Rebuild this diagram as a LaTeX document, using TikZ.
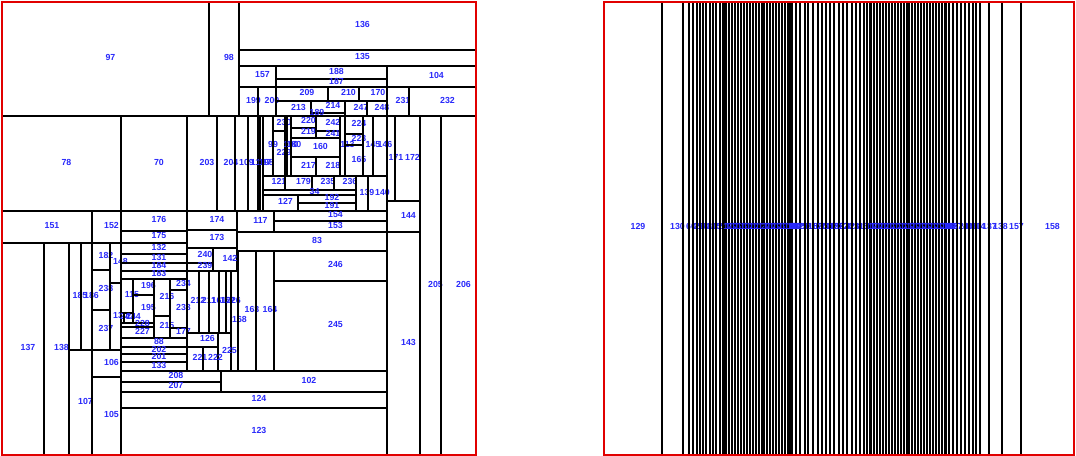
\documentclass[tikz,border=0pt]{standalone}
\usepackage{fontspec}
\setsansfont{Liberation Sans}
\usetikzlibrary{calc}
\definecolor{labelblue}{RGB}{40,40,250}
\definecolor{framered}{RGB}{225,0,0}
\tikzset{
	cellbox/.style={draw=black, line width=0.75pt},
	celllabel/.style={text=labelblue, font=\sffamily\bfseries\fontsize{5}{6}\selectfont, inner sep=0pt, xshift=0.1cm, yshift=0.03cm},
	slice/.style={draw=black, line width=0.6pt},
	frame/.style={draw=framered, line width=1.3pt}
}
\def\boxcell(#1,#2)(#3,#4)#5{\draw[cellbox] (#1,#2) rectangle (#3,#4); \node[celllabel] (n#5) at ($(#1,#2)!0.5!(#3,#4)$) {#5};}

\begin{document}
\begin{tikzpicture}[x=0.02cm, y=-0.02cm]
			\useasboundingbox (0,0) rectangle (1076,456);
			%%%%% LEFT %%%%%
			
			\boxcell(2,2)(209,116){97}
			\boxcell(209,2)(239,116){98}
			\boxcell(239,2)(476,50){136}
			\boxcell(239,50)(476,66){135}
			\boxcell(239,66)(276,87){157}
			\boxcell(276,66)(387,79){188}
			\boxcell(276,79)(387,87){187}
			\boxcell(387,66)(476,87){104}
			\boxcell(239,87)(258,116){199}
			\boxcell(258,87)(276,116){200}
			\boxcell(276,87)(328,101){209}
			\boxcell(328,87)(359,101){210}
			\boxcell(359,87)(387,101){170}
			\boxcell(276,101)(311,116){213}
			\boxcell(311,101)(345,113){214}
			\draw[cellbox] (311,113) rectangle (345,116);
			\node[celllabel] (n189) at (312,114) {189};
			\boxcell(345,101)(367,116){247}
			\boxcell(367,101)(387,116){248}
			\boxcell(387,87)(409,116){231}
			\boxcell(409,87)(476,116){232}
			
			\boxcell(2,116)(121,211){78}
			\boxcell(121,116)(187,211){70}
			\boxcell(187,116)(217,211){203}
			\boxcell(217,116)(235,211){204}
			\boxcell(235,116)(248,211){109}
			\boxcell(248,116)(258,211){119}
			\boxcell(258,116)(260,211){197}
			\boxcell(260,116)(263,211){198}
			\boxcell(263,116)(273,176){99}
			\boxcell(273,116)(285,131){230}
			\boxcell(273,131)(285,176){229}
			\boxcell(285,116)(287,176){190}
			\boxcell(287,116)(291,176){180}
			\boxcell(291,116)(316,128){220}
			\boxcell(291,128)(316,138){219}
			\boxcell(316,116)(340,131){242}
			\boxcell(316,131)(340,138){241}
			\boxcell(291,138)(340,157){160}
			\boxcell(291,157)(316,176){217}
			\boxcell(316,157)(340,176){218}
			\boxcell(340,116)(345,176){113}
			\boxcell(345,116)(363,134){224}
			\boxcell(345,134)(363,145){223}
			\boxcell(345,145)(363,176){165}
			\boxcell(363,116)(373,176){145}
			\boxcell(373,116)(387,176){146}
			\boxcell(263,176)(285,190){121}
			\boxcell(285,176)(312,190){179}
			\boxcell(312,176)(334,190){235}
			\boxcell(334,176)(356,190){236}
			\boxcell(263,190)(356,195){34}
			\boxcell(263,195)(298,211){127}
			\boxcell(298,195)(356,203){192}
			\boxcell(298,203)(356,211){191}
			\boxcell(356,176)(368,211){139}
			\boxcell(368,176)(387,211){140}
			\boxcell(387,116)(395,201){171}
			\boxcell(395,116)(420,201){172}
			\boxcell(387,201)(420,232){144}
			\boxcell(387,232)(420,455){143}
			\boxcell(420,116)(441,455){205}
			\boxcell(441,116)(476,455){206}
			
			\boxcell(2,211)(92,243){151}
			\boxcell(92,211)(121,243){152}
			\boxcell(2,243)(44,455){137}
			\boxcell(44,243)(69,455){138}
			\boxcell(69,243)(81,350){185}
			\boxcell(81,243)(92,350){186}
			\boxcell(69,350)(92,455){107}
			\boxcell(92,350)(121,377){106}
			\boxcell(92,377)(121,455){105}
			\boxcell(92,243)(110,270){182}
			\boxcell(92,270)(110,310){238}
			\boxcell(92,310)(110,350){237}
			\boxcell(110,243)(121,283){148}
			\boxcell(110,283)(121,350){130}
			
			\boxcell(121,211)(187,231){176}
			\boxcell(121,231)(187,243){175}
			\boxcell(121,243)(187,254){132}
			\boxcell(121,254)(187,263){131}
			\boxcell(121,263)(187,271){184}
			\boxcell(121,271)(187,279){183}
			\boxcell(121,279)(133,313){115}
			\boxcell(121,313)(124,323){243}
			\boxcell(124,313)(133,323){244}
			\boxcell(133,279)(154,295){196}
			\boxcell(133,295)(154,323){195}
			\boxcell(121,323)(154,327){228}
			\boxcell(121,327)(154,338){227}
			\boxcell(154,279)(170,316){216}
			\boxcell(154,316)(170,338){215}
			\boxcell(170,279)(187,290){234}
			\boxcell(170,290)(187,328){233}
			\boxcell(170,328)(187,338){177}
			\boxcell(121,338)(187,347){88}
			\boxcell(121,347)(187,354){202}
			\boxcell(121,354)(187,362){201}
			\boxcell(121,362)(187,371){133}
			\boxcell(121,371)(221,382){208}
			\boxcell(121,382)(221,392){207}
			\boxcell(221,371)(387,392){102}
			\boxcell(121,392)(387,408){124}
			\boxcell(121,408)(387,455){123}
			
			\boxcell(187,211)(237,230){174}
			\boxcell(187,230)(237,248){173}
			\boxcell(237,211)(274,232){117}
			\boxcell(274,211)(387,221){154}
			\boxcell(274,221)(387,232){153}
			\boxcell(237,232)(387,251){83}
			\boxcell(187,248)(213,263){240}
			\boxcell(187,263)(213,271){239}
			\boxcell(213,248)(237,271){142}
			\boxcell(187,271)(199,333){212}
			\boxcell(199,271)(209,333){211}
			\boxcell(209,271)(219,333){161}
			\boxcell(219,271)(226,333){162}
			\boxcell(226,271)(231,333){226}
			\boxcell(231,271)(238,371){168}
			\boxcell(238,251)(256,371){163}
			\boxcell(256,251)(274,371){164}
			\boxcell(274,251)(387,281){246}
			\boxcell(274,281)(387,371){245}
			\boxcell(187,333)(218,347){126}
			\boxcell(218,333)(231,371){225}
			\boxcell(187,347)(203,371){221}
			\boxcell(203,347)(218,371){222}
			
			\draw[frame] (2,2) rectangle (476,455);
			
			%%%%% RIGHT %%%%%
			
			\foreach \a/\b/\n in {604/662/129, 662/683/130, 683/689/60, 689/693/2, 693/697/20, 697/700/24, 700/703/41, 703/706/8, 706/710/13, 710/713/15, 713/716/1, 716/720/27, 720/723/5, 723/725/12,
				790/792/80, 792/796/82, 796/800/72, 800/805/51, 805/808/21, 808/813/150, 813/818/62, 818/822/203, 822/826/30, 826/830/101, 830/834/159, 834/839/227, 839/843/228, 843/847/42, 847/852/28, 852/856/31, 856/860/16, 860/864/10, 864/867/11, 867/870/19,
				946/949/3, 949/953/9, 953/957/7, 957/961/23, 961/965/40, 965/969/93, 969/973/90, 973/976/6, 976/980/4, 980/989/137, 989/1002/138, 1002/1021/157, 1021/1074/158}{
				\draw[slice] (\a,2) -- (\a,455);
				\pgfmathsetmacro\c{(\a+\b)/2}
				\node[celllabel] (s\n) at (\c,228) {\n};
			}
			\foreach \i in {0,...,42}{
				\pgfmathsetmacro\a{725+1.52*\i}
				\pgfmathtruncatemacro\n{100+mod(41*\i+7,149)}
				\draw[slice] (\a,2) -- (\a,455);
				\node[celllabel] (da\i) at ({\a+0.76},228) {\n};
			}
			\foreach \i in {0,...,49}{
				\pgfmathsetmacro\a{870+1.52*\i}
				\pgfmathtruncatemacro\n{100+mod(37*\i+3,149)}
				\draw[slice] (\a,2) -- (\a,455);
				\node[celllabel] (db\i) at ({\a+0.76},228) {\n};
			}
			
			\draw[frame] (604,2) rectangle (1074,455);
			
			%%%%% END %%%%%
\end{tikzpicture}
\end{document}
